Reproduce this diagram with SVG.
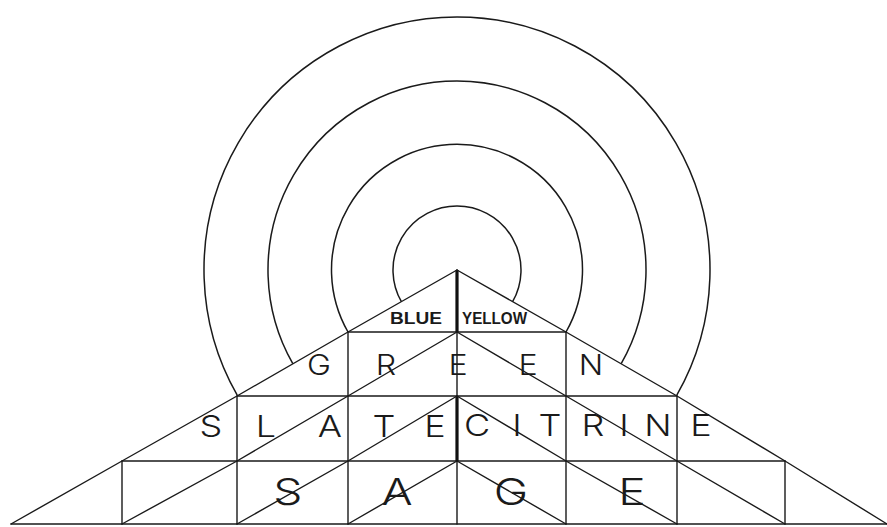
<svg xmlns="http://www.w3.org/2000/svg" width="887" height="527" viewBox="0 0 887 527">
  <style>
    .ln { fill: none; stroke: #1a1a1a; stroke-width: 1.4; stroke-linejoin: round; stroke-linecap: round; }
    .thick { fill: none; stroke: #111; stroke-width: 3.2; }
    .arc { fill: none; stroke: #1a1a1a; stroke-width: 1.5; }
    .lbl { font-family: Inter, "Liberation Sans", "DejaVu Sans", sans-serif; font-weight: 300; fill: #1a1a1a; text-anchor: middle; }
    .small { font-family: "Liberation Sans", "DejaVu Sans", sans-serif; font-weight: bold; fill: #1a1a1a; font-size: 16px; }
  </style>
  <rect width="887" height="527" fill="#ffffff"/>

  <g id="circles">
    <path class="arc" d="M401.4,301.7 A64,64 0 1 1 512.6,301.7"/>
    <path class="arc" d="M348,332 A125.5,125.5 0 1 1 566,332"/>
    <path class="arc" d="M292.8,363.6 A189,189 0 1 1 621.2,363.6"/>
    <path class="arc" d="M237.2,395.2 A253,253 0 1 1 676.8,395.2"/>
  </g>

  <g id="connectors">
    <path class="ln" d="M348,332 H566 M237,396 H677 M122,461 H785 M11,524 H887"/>
    <path class="ln" d="M348,332 V524 M237,396 V524 M122,461 V524 M566,332 V524 M677,396 V524 M785,461 V524 M457,270 V524"/>
    <path class="thick" d="M457,270 V332 M457,396 V461"/>
    <path class="ln" d="M457,270 L348,332 L237,396 L122,461 L11,524"/>
    <path class="ln" d="M457,332 L348,396 L237,461 L122,524"/>
    <path class="ln" d="M457,396 L348,461 L237,524"/>
    <path class="ln" d="M457,461 L348,524"/>
    <path class="ln" d="M457,270 L566,332 L677,396 L785,461 L887,524"/>
    <path class="ln" d="M457,332 L566,396 L677,461 L785,524"/>
    <path class="ln" d="M457,396 L566,461 L677,524"/>
    <path class="ln" d="M457,461 L566,524"/>
  </g>

  <g id="blue"><text class="small" x="390" y="323.5" textLength="52" lengthAdjust="spacingAndGlyphs">BLUE</text></g>
  <g id="yellow"><text class="small" x="462" y="323.5" textLength="65" lengthAdjust="spacingAndGlyphs">YELLOW</text></g>
  <g id="green"><text class="lbl" font-size="28" transform="scale(1.15,1)" x="277.4 335.7 398.3 459.1 513.9" y="375">GREEN</text></g>
  <g id="slate"><text class="lbl" font-size="30" transform="scale(1.2,1)" x="175.8 221.7 275 320 362.5" y="437">SLATE</text></g>
  <g id="citrine"><text class="lbl" font-size="30" transform="scale(1.2,1)" x="397.5 430.8 458.3 494.2 520 548.3 584.2" y="436">CITRINE</text></g>
  <g id="sage"><text class="lbl" font-size="37" transform="scale(1.25,1)" x="230.4 317.6 408.8 505.6" y="505">SAGE</text></g>
</svg>
